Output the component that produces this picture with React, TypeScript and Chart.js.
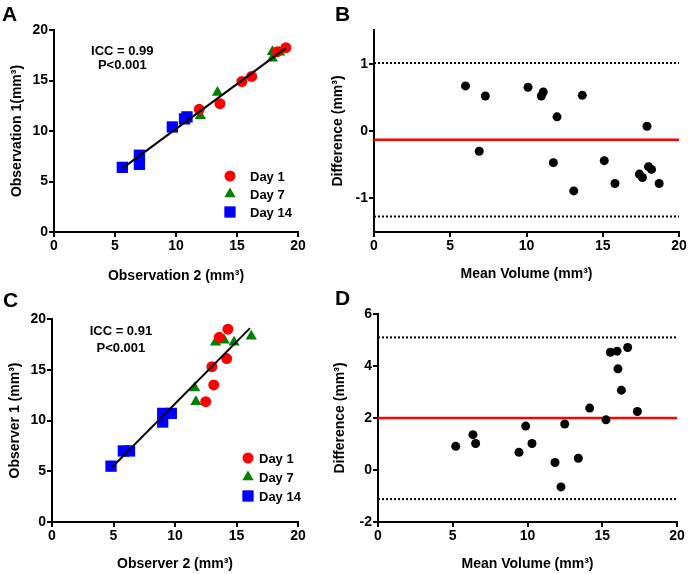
import React, { useEffect, useRef } from 'react';
import { Chart, registerables } from 'chart.js';
Chart.register(...registerables);

const FONT = '"Liberation Sans", Arial, Helvetica, sans-serif';
const RED = '#ff0000';
const GREEN = '#008000';
const BLUE = '#0000ff';

// ---------- Panel A: Observation 2 (x) vs Observation 1 (y)
const aDay1X = [11.9, 13.6, 15.4, 16.2, 18.3, 19.0];
const aDay1Y = [12.15, 12.7, 14.9, 15.4, 17.85, 18.25];
const aDay7X = [12.0, 13.4, 17.9, 17.9, 18.5];
const aDay7Y = [11.5, 13.8, 17.85, 17.2, 17.8];
const aDay14X = [5.6, 7.0, 7.0, 9.7, 10.7, 10.9];
const aDay14Y = [6.4, 7.6, 6.7, 10.4, 11.2, 11.4];
const aFitX = [5.6, 19.0];
const aFitY = [6.3, 18.2];

// ---------- Panel B: Bland-Altman (observations)
const bMeanVol = [6.0, 7.3, 10.1, 11.1, 10.97, 13.66, 12.0, 17.9, 6.9, 11.76, 15.1, 13.1, 15.8, 17.4, 17.6, 18.0, 18.2, 18.7];
const bDiff = [0.67, 0.52, 0.65, 0.58, 0.52, 0.53, 0.21, 0.07, -0.3, -0.47, -0.44, -0.89, -0.78, -0.64, -0.69, -0.53, -0.57, -0.78];
const bBias = -0.13;
const bUpper = 1.01;
const bLower = -1.27;

// ---------- Panel C: Observer 2 (x) vs Observer 1 (y)
const cDay1X = [14.3, 13.6, 14.2, 13.0, 13.15, 12.5];
const cDay1Y = [19.0, 18.2, 16.1, 15.3, 13.5, 11.85];
const cDay7X = [13.3, 14.0, 14.8, 16.2, 11.6, 11.7];
const cDay7Y = [17.7, 17.9, 17.7, 18.3, 13.2, 11.85];
const cDay14X = [4.8, 5.8, 6.3, 9.0, 9.7, 9.0];
const cDay14Y = [5.5, 7.0, 7.0, 10.7, 10.7, 9.85];
const cFitX = [4.8, 16.1];
const cFitY = [5.3, 19.1];

// ---------- Panel D: Bland-Altman (observers)
const dMeanVol = [5.2, 6.35, 6.53, 9.43, 9.88, 10.3, 11.84, 12.24, 12.49, 13.4, 14.16, 15.25, 15.54, 15.99, 16.7, 16.05, 16.28, 17.35];
const dDiff = [0.91, 1.36, 1.02, 0.68, 1.69, 1.02, 0.29, -0.65, 1.77, 0.45, 2.38, 1.93, 4.53, 4.57, 4.71, 3.89, 3.07, 2.25];
const dBias = 2.0;
const dUpper = 5.1;
const dLower = -1.12;

// ---------- Axis ticks / labels
const xTicks = [0, 5, 10, 15, 20];
const scatterYTicks = [0, 5, 10, 15, 20];
const bYTicks = [-1, 0, 1];
const dYTicks = [-2, 0, 2, 4, 6];
const legendLabels = ['Day 1', 'Day 7', 'Day 14'];

const zip = (xs: number[], ys: number[]) => xs.map((x, i) => ({ x, y: ys[i] }));
const hline = (v: number) => [{ x: 0, y: v }, { x: 20, y: v }];

function axis(min: number, max: number, ticks: number[], title: string, titlePad: number, size: number, isX: boolean) {
  return {
    type: 'linear',
    min,
    max,
    afterBuildTicks: (s: any) => {
      s.ticks = ticks.map((v) => ({ value: v }));
    },
    afterFit: (s: any) => {
      if (isX) s.height = size;
      else s.width = size;
    },
    border: { display: true, color: '#000', width: 2 },
    grid: { display: true, drawOnChartArea: false, drawTicks: true, tickLength: 5, color: '#000', lineWidth: 2 },
    ticks: {
      color: '#000',
      font: { family: FONT, size: 14, weight: 'bold' },
      padding: 1,
      maxRotation: 0,
      autoSkip: false,
    },
    title: {
      display: true,
      text: title,
      color: '#000',
      font: { family: FONT, size: 14, weight: 'bold' },
      padding: isX ? { top: 0, bottom: titlePad } : { top: titlePad, bottom: 0 },
    },
  };
}

function drawMarker(ctx: CanvasRenderingContext2D, style: string, x: number, y: number, r: number, color: string) {
  ctx.fillStyle = color;
  ctx.beginPath();
  if (style === 'circle') {
    ctx.arc(x, y, r, 0, Math.PI * 2);
  } else if (style === 'triangle') {
    ctx.moveTo(x, y - r);
    ctx.lineTo(x + r * 0.866, y + r * 0.5);
    ctx.lineTo(x - r * 0.866, y + r * 0.5);
    ctx.closePath();
  } else {
    const s = r * Math.SQRT1_2;
    ctx.rect(x - s, y - s, 2 * s, 2 * s);
  }
  ctx.fill();
}

const overlay = {
  id: 'overlay',
  afterDatasetsDraw(chart: any, _args: any, opts: any) {
    const ctx = chart.ctx as CanvasRenderingContext2D;
    const xs = chart.scales.x;
    const ys = chart.scales.y;
    ctx.save();
    ctx.fillStyle = '#000';
    ctx.font = `bold 13px ${FONT}`;
    ctx.textAlign = 'center';
    ctx.textBaseline = 'middle';
    (opts.notes || []).forEach((n: any) => {
      ctx.fillText(n.text, xs.getPixelForValue(n.x), ys.getPixelForValue(n.y));
    });
    if (opts.legend) {
      const L = opts.legend;
      const styles = ['circle', 'triangle', 'rect'];
      const colors = [RED, GREEN, BLUE];
      const radii = [5.5, 6.5, 8];
      legendLabels.forEach((lab, i) => {
        const cy = L.y + i * L.dy;
        drawMarker(ctx, styles[i], L.x, cy, radii[i], colors[i]);
        ctx.fillStyle = '#000';
        ctx.font = `bold 13px ${FONT}`;
        ctx.textAlign = 'left';
        ctx.textBaseline = 'middle';
        ctx.fillText(lab, L.tx, cy + 1);
      });
    }
    ctx.restore();
  },
};

function scatterSets(d1: any[], d7: any[], d14: any[], fit: any[]) {
  return [
    { data: fit, showLine: true, borderColor: '#000', borderWidth: 2, pointRadius: 0, fill: false },
    { data: d1, pointStyle: 'circle', pointRadius: 5.5, backgroundColor: RED, borderColor: RED, borderWidth: 0 },
    { data: d7, pointStyle: 'triangle', pointRadius: 6.5, backgroundColor: GREEN, borderColor: GREEN, borderWidth: 0 },
    { data: d14, pointStyle: 'rect', pointRadius: 8, backgroundColor: BLUE, borderColor: BLUE, borderWidth: 0 },
  ];
}

function baSets(pts: any[], bias: number, up: number, lo: number) {
  return [
    { data: pts, pointStyle: 'circle', pointRadius: 4.5, backgroundColor: '#000', borderColor: '#000', borderWidth: 0 },
    { data: hline(bias), showLine: true, borderColor: RED, borderWidth: 2.5, pointRadius: 0, fill: false },
    { data: hline(up), showLine: true, borderColor: '#000', borderWidth: 2, borderDash: [2, 2], pointRadius: 0, fill: false },
    { data: hline(lo), showLine: true, borderColor: '#000', borderWidth: 2, borderDash: [2, 2], pointRadius: 0, fill: false },
  ];
}

interface PanelProps {
  left: number;
  top: number;
  w: number;
  h: number;
  pad: { left: number; right: number; top: number; bottom: number };
  yWidth: number;
  xHeight: number;
  xTitle: string;
  yTitle: string;
  xTitlePad: number;
  yTitlePad: number;
  yMin: number;
  yMax: number;
  yTicks: number[];
  datasets: any[];
  notes: any[];
  legend?: any;
}

function Panel(p: PanelProps) {
  const ref = useRef<HTMLCanvasElement>(null);
  useEffect(() => {
    const chart = new Chart(ref.current as HTMLCanvasElement, {
      type: 'scatter',
      data: { datasets: p.datasets },
      options: {
        animation: false,
        responsive: false,
        devicePixelRatio: 1,
        layout: { padding: p.pad },
        plugins: {
          legend: { display: false },
          tooltip: { enabled: false },
          overlay: { notes: p.notes, legend: p.legend },
        } as any,
        scales: {
          x: axis(0, 20, xTicks, p.xTitle, p.xTitlePad, p.xHeight, true) as any,
          y: axis(p.yMin, p.yMax, p.yTicks, p.yTitle, p.yTitlePad, p.yWidth, false) as any,
        },
      },
      plugins: [overlay as any],
    });
    return () => chart.destroy();
  }, []);
  return (
    <canvas
      ref={ref}
      width={p.w}
      height={p.h}
      style={{ position: 'absolute', left: p.left, top: p.top, width: p.w, height: p.h }}
    />
  );
}

const letterStyle = (left: number, top: number): React.CSSProperties => ({
  position: 'absolute',
  left,
  top,
  fontFamily: FONT,
  fontWeight: 'bold',
  fontSize: 21,
  lineHeight: '21px',
  color: '#000',
});

export default function App() {
  return (
    <div style={{ position: 'absolute', left: 0, top: 0, width: 688, height: 574, background: '#fff', overflow: 'hidden' }}>
      <Panel
        left={0}
        top={0}
        w={344}
        h={287}
        pad={{ left: 0, right: 46, top: 30, bottom: 0 }}
        yWidth={54}
        xHeight={55}
        xTitle="Observation 2 (mm³)"
        yTitle="Observation 1(mm³)"
        xTitlePad={2}
        yTitlePad={9}
        yMin={0}
        yMax={20}
        yTicks={scatterYTicks}
        datasets={scatterSets(zip(aDay1X, aDay1Y), zip(aDay7X, aDay7Y), zip(aDay14X, aDay14Y), zip(aFitX, aFitY))}
        notes={[
          { x: 5.6, y: 17.9, text: 'ICC = 0.99' },
          { x: 5.6, y: 16.5, text: 'P<0.001' },
        ]}
        legend={{ x: 230, tx: 250, y: 176, dy: 18 }}
      />
      <Panel
        left={324}
        top={0}
        w={364}
        h={287}
        pad={{ left: 0, right: 9, top: 30, bottom: 0 }}
        yWidth={50}
        xHeight={55}
        xTitle="Mean Volume (mm³)"
        yTitle="Difference (mm³)"
        xTitlePad={4}
        yTitlePad={6}
        yMin={-1.5}
        yMax={1.5}
        yTicks={bYTicks}
        datasets={baSets(zip(bMeanVol, bDiff), bBias, bUpper, bLower)}
        notes={[]}
      />
      <Panel
        left={0}
        top={287}
        w={344}
        h={287}
        pad={{ left: 0, right: 46, top: 32, bottom: 0 }}
        yWidth={52}
        xHeight={52}
        xTitle="Observer 2 (mm³)"
        yTitle="Observer 1 (mm³)"
        xTitlePad={1}
        yTitlePad={7}
        yMin={0}
        yMax={20}
        yTicks={scatterYTicks}
        datasets={scatterSets(zip(cDay1X, cDay1Y), zip(cDay7X, cDay7Y), zip(cDay14X, cDay14Y), zip(cFitX, cFitY))}
        notes={[
          { x: 5.6, y: 18.8, text: 'ICC = 0.91' },
          { x: 5.6, y: 17.1, text: 'P<0.001' },
        ]}
        legend={{ x: 248, tx: 259, y: 171, dy: 19 }}
      />
      <Panel
        left={324}
        top={287}
        w={364}
        h={287}
        pad={{ left: 0, right: 11, top: 27, bottom: 0 }}
        yWidth={54}
        xHeight={52}
        xTitle="Mean Volume (mm³)"
        yTitle="Difference (mm³)"
        xTitlePad={1}
        yTitlePad={8}
        yMin={-2}
        yMax={6}
        yTicks={dYTicks}
        datasets={baSets(zip(dMeanVol, dDiff), dBias, dUpper, dLower)}
        notes={[]}
      />
      <div style={letterStyle(2, 3)}>A</div>
      <div style={letterStyle(335, 3)}>B</div>
      <div style={letterStyle(3, 289)}>C</div>
      <div style={letterStyle(335, 287)}>D</div>
    </div>
  );
}
